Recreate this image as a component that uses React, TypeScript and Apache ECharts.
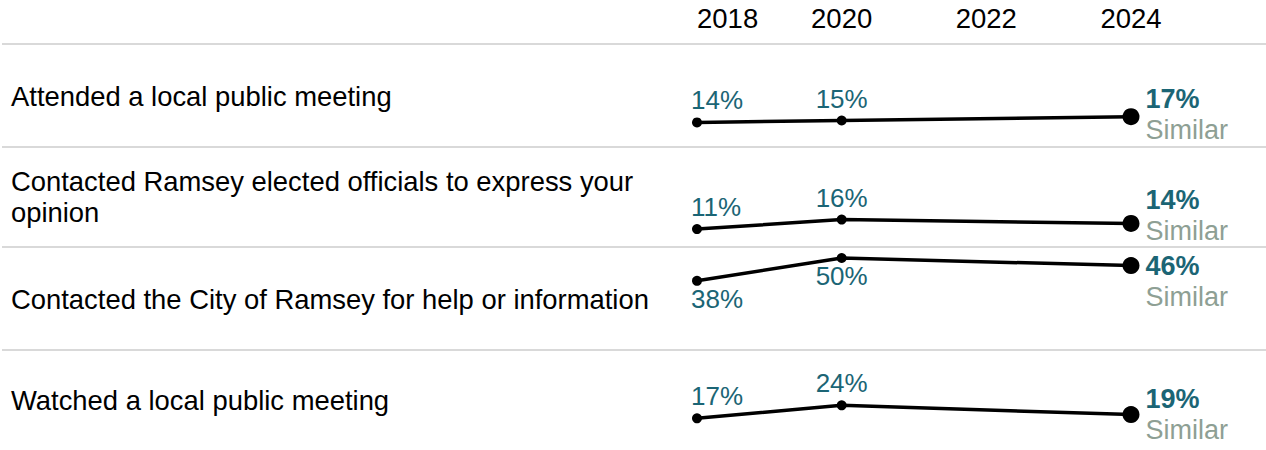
import React, { useEffect, useRef } from 'react';
import * as echarts from 'echarts';

// ---- data ----
const categories = [
  'Attended a local public meeting',
  'Contacted Ramsey elected officials to express your\nopinion',
  'Contacted the City of Ramsey for help or information',
  'Watched a local public meeting',
];
const surveyYears = [2018, 2020, 2024];
const axisYears = [2018, 2020, 2022, 2024];
const attendedMeeting = [14, 15, 17];
const contactedOfficials = [11, 16, 14];
const contactedCity = [38, 50, 46];
const watchedMeeting = [17, 24, 19];
const comparisons = ['Similar', 'Similar', 'Similar', 'Similar'];
const rowValues = [attendedMeeting, contactedOfficials, contactedCity, watchedMeeting];

// ---- layout / style ----
const W = 1266;
const H = 450;
const PLOT_LEFT = 697;
const PLOT_W = 434;
const GRID_H = 101.5;
const PX_PER_PCT = 1.9;
const Y_MAX = GRID_H / PX_PER_PCT;
const sepY = [44, 147, 247, 350];
const zeroY = [149, 250, 353, 452];
const rowLabelY = [96, 197, 299, 400.5];
const labelSide = ['top', 'top', 'bottom', 'top'];
const endLabelDy = [-2, -8, 15.5, 0];
const TEAL = '#1b6575';
const GRAY = '#8e9f94';
const SEP = '#d9d9d9';
const FONT = 'Arial, "Liberation Sans", Helvetica, sans-serif';

export default function App() {
  const ref = useRef<HTMLDivElement>(null);

  useEffect(() => {
    document.body.style.margin = '0';
    if (!ref.current) return;
    const chart = echarts.init(ref.current, undefined, { renderer: 'svg' });

    const grids = rowValues.map((_, i) => ({
      left: PLOT_LEFT,
      width: PLOT_W,
      top: zeroY[i] - GRID_H,
      height: GRID_H,
      containLabel: false,
    }));

    const xAxes = rowValues.map((_, i) => ({
      type: 'value',
      gridIndex: i,
      min: axisYears[0],
      max: axisYears[axisYears.length - 1],
      interval: axisYears[1] - axisYears[0],
      position: 'top',
      show: i === 0,
      axisLine: { show: false },
      axisTick: { show: false },
      splitLine: { show: false },
      axisLabel: {
        show: i === 0,
        margin: 15,
        fontSize: 27.5,
        fontFamily: FONT,
        color: '#000',
        alignMinLabel: 'left',
        formatter: (v: number) => String(v),
      },
    }));

    const yAxes = rowValues.map((_, i) => ({
      type: 'value',
      gridIndex: i,
      min: 0,
      max: Y_MAX,
      show: false,
    }));

    const series = rowValues.map((vals, i) => ({
      type: 'line',
      xAxisIndex: i,
      yAxisIndex: i,
      symbol: 'circle',
      lineStyle: { color: '#000', width: 3.5 },
      itemStyle: { color: '#000' },
      clip: false,
      data: surveyYears.map((yr, j) => {
        const last = j === surveyYears.length - 1;
        const v = vals[j];
        let label: any;
        if (last) {
          label = {
            show: true,
            position: 'right',
            distance: 6,
            offset: [0, endLabelDy[i]],
            formatter: () => `{v|${v}%}\n{s|${comparisons[i]}}`,
            rich: {
              v: { fontSize: 27, fontWeight: 'bold', color: TEAL, fontFamily: FONT, lineHeight: 31 },
              s: { fontSize: 27, color: GRAY, fontFamily: FONT, lineHeight: 31 },
            },
          };
        } else {
          label = {
            show: true,
            position: labelSide[i],
            distance: labelSide[i] === 'top' ? 4 : 0,
            align: j === 0 ? 'left' : 'center',
            offset: [j === 0 ? -6 : 0, 0],
            fontSize: 26,
            fontFamily: FONT,
            color: TEAL,
            formatter: () => `${v}%`,
          };
        }
        return { value: [yr, v], symbolSize: last ? 17 : 10, label };
      }),
    }));

    const graphics: any[] = [];
    sepY.forEach((y) => {
      graphics.push({
        type: 'line',
        shape: { x1: 2, y1: y, x2: W, y2: y },
        style: { stroke: SEP, lineWidth: 2 },
        silent: true,
      });
    });
    categories.forEach((c, i) => {
      graphics.push({
        type: 'text',
        x: 11,
        y: rowLabelY[i],
        style: {
          text: c,
          fontSize: 27.4,
          fontFamily: FONT,
          fill: '#000',
          lineHeight: 31,
          verticalAlign: 'middle',
          align: 'left',
        },
        silent: true,
      });
    });

    chart.setOption({
      animation: false,
      backgroundColor: '#fff',
      grid: grids,
      xAxis: xAxes,
      yAxis: yAxes,
      series,
      graphic: graphics,
    });

    return () => chart.dispose();
  }, []);

  return <div ref={ref} style={{ width: W, height: H }} />;
}
